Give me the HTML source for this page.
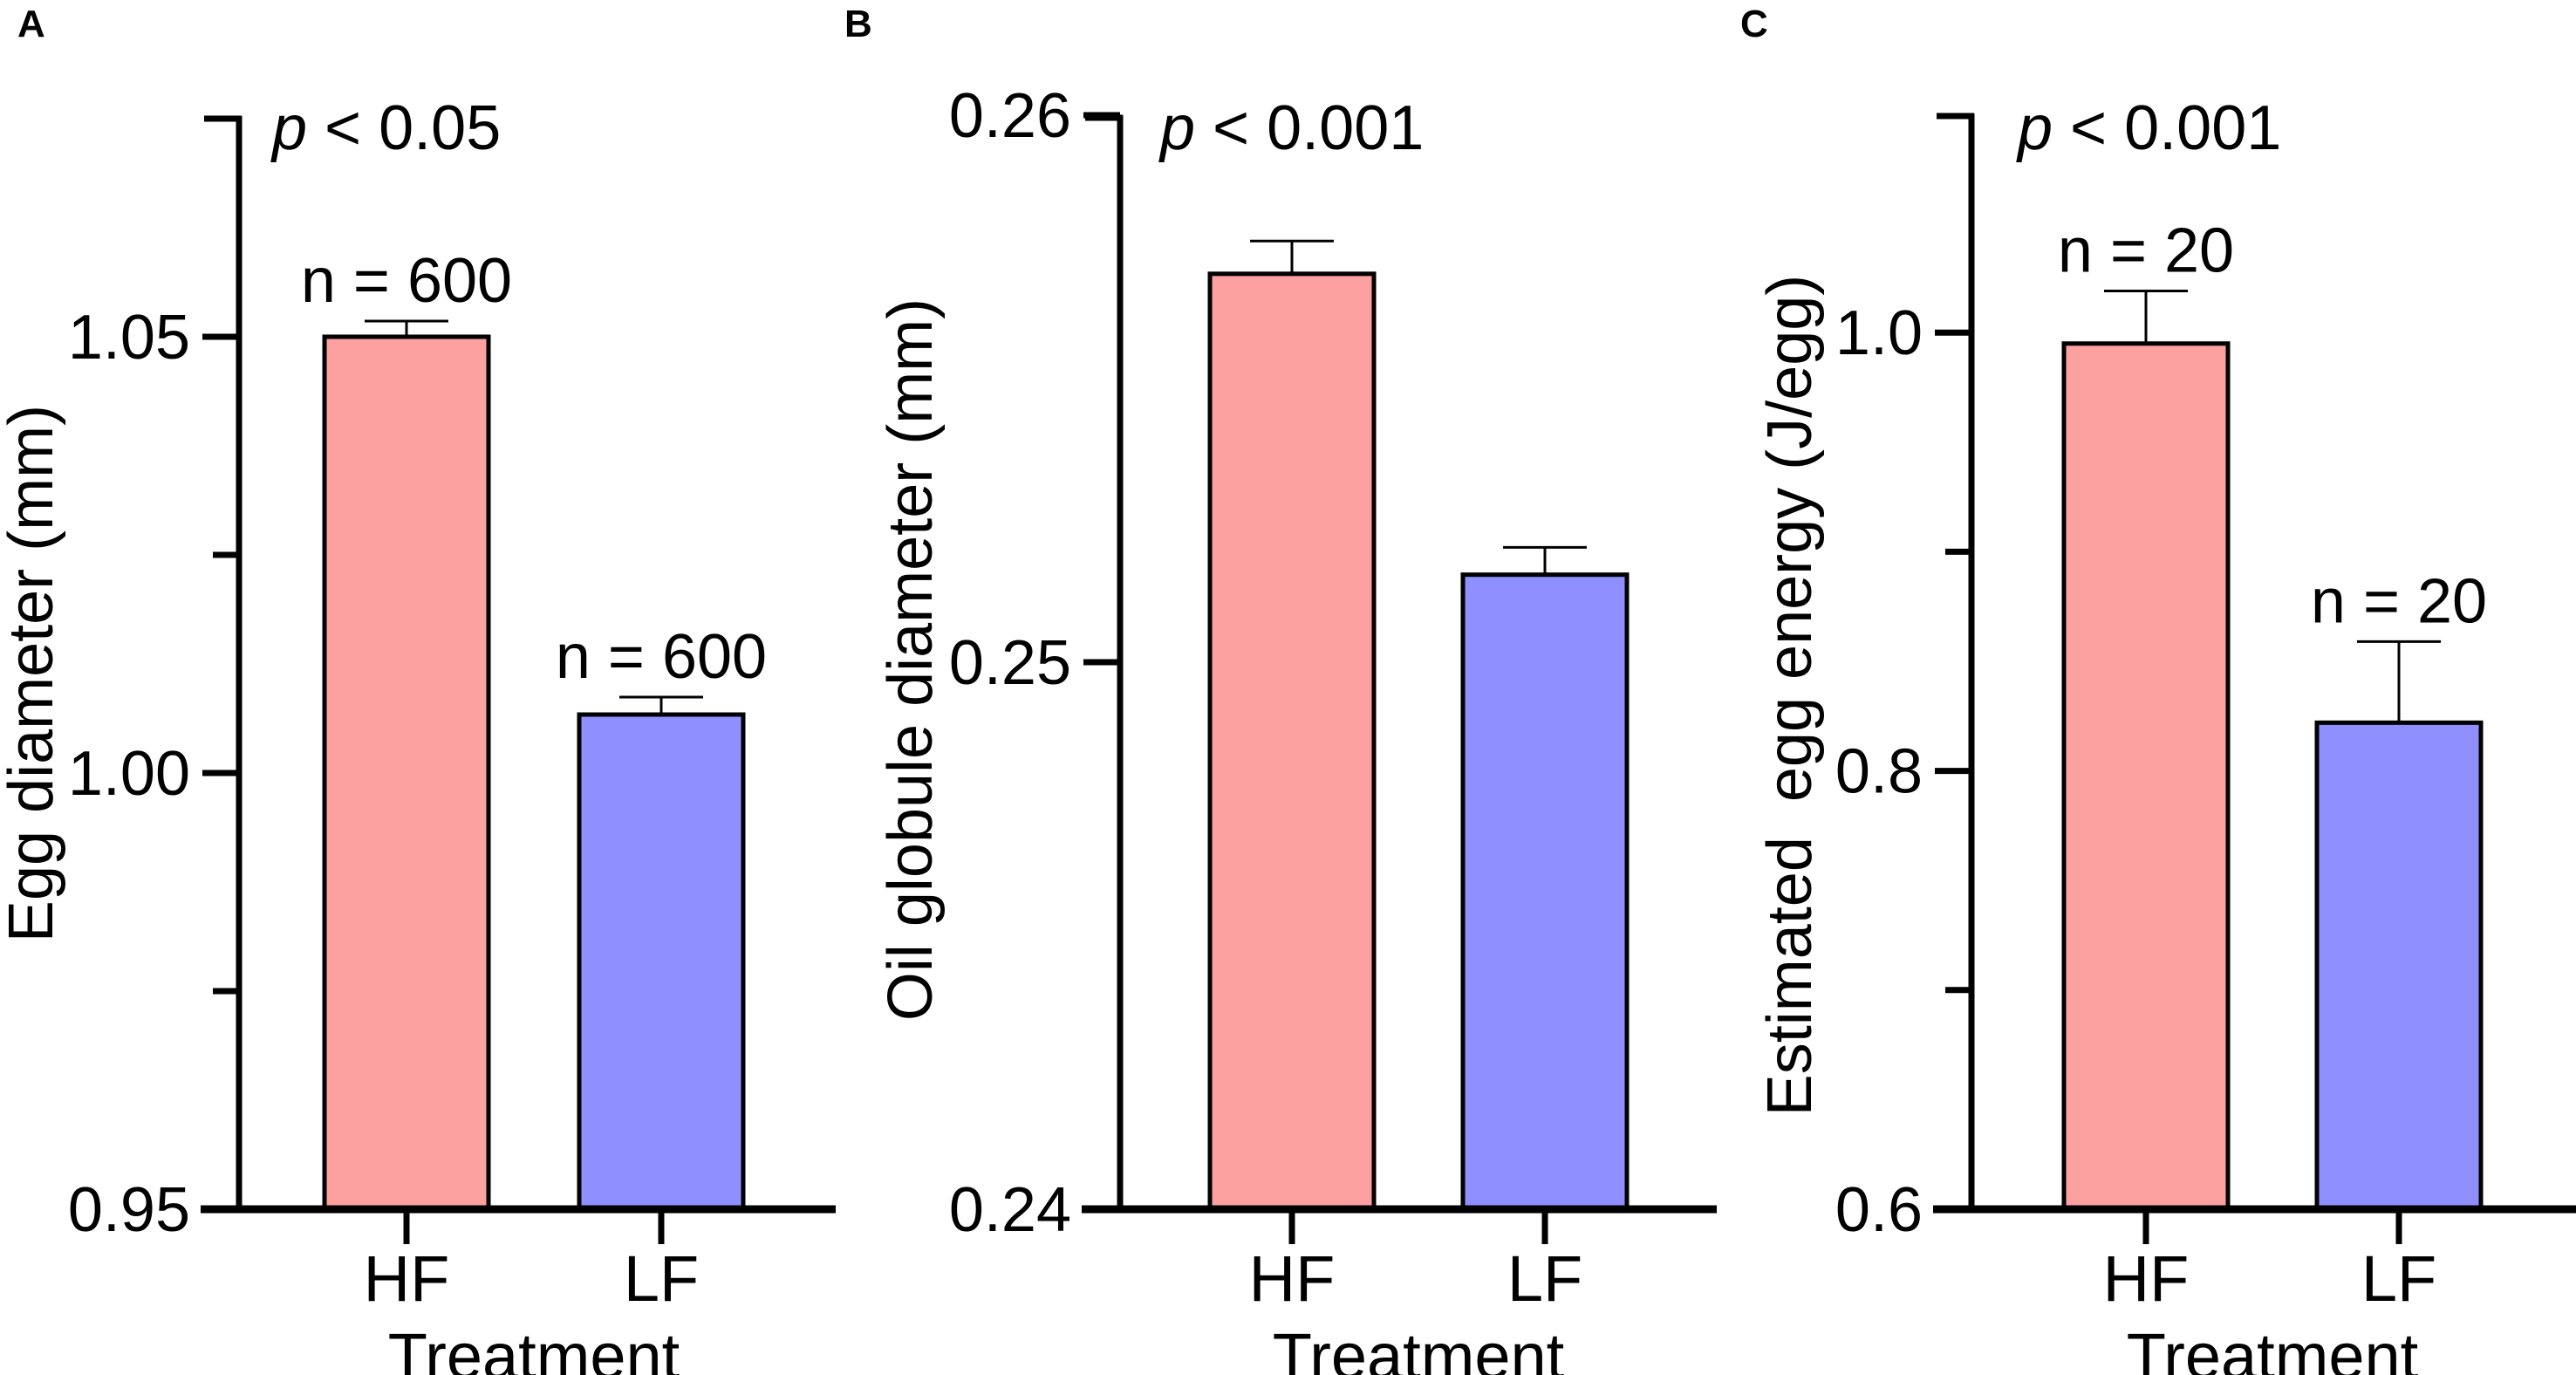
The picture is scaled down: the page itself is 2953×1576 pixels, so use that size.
<!DOCTYPE html>
<html><head><meta charset="utf-8"><style>
html,body{margin:0;padding:0;background:#fff;}
svg{display:block;font-family:"Liberation Sans",Arial,sans-serif;}
</style></head><body>
<svg id="fig" width="2953" height="1576" viewBox="0 0 2953 1576"></svg>
<script>
const categories = ["HF","LF"];
const meansA = [1.0500, 1.0067];
const errsA  = [0.0018, 0.0020];
const nA = ["n = 600","n = 600"];
const ticksA = [0.95, 1.00, 1.05];
const tickLabelsA = ["0.95","1.00","1.05"];
const minorA = [0.975, 1.025];
const meansB = [0.2571, 0.2516];
const errsB  = [0.0006, 0.0005];
const ticksB = [0.24, 0.25, 0.26];
const tickLabelsB = ["0.24","0.25","0.26"];
const meansC = [0.995, 0.822];
const errsC  = [0.024, 0.037];
const nC = ["n = 20","n = 20"];
const ticksC = [0.6, 0.8, 1.0];
const tickLabelsC = ["0.6","0.8","1.0"];
const minorC = [0.7, 0.9];
const colors = ["#fca0a0","#8f8fff"];

const NS = "http://www.w3.org/2000/svg";
const svg = document.getElementById("fig");
function mk(tag, attrs, parent){
  const e = document.createElementNS(NS, tag);
  for (const k in attrs) e.setAttribute(k, attrs[k]);
  (parent||svg).appendChild(e);
  return e;
}
function panel(cfg){
  const g = mk("g", {});
  
  
  const y = v => cfg.y0 - (v - cfg.vmin) / (cfg.vmax - cfg.vmin) * (cfg.y0 - cfg.yTop);
  const L = mk("text", {x:cfg.letterX, y:42, "font-size":44, "font-weight":"bold"}, g);
  L.textContent = cfg.letter;
  
  
  cfg.means.forEach((m,i)=>{
    const cx = cfg.cx[i];
    const top = y(m);
    const eTop = y(m + cfg.errs[i]);
    const eb = mk("line", {x1:cx, x2:cx, y1:top, y2:eTop, stroke:"#000","stroke-width":3}, g);
    
    
    const cap = mk("line", {x1:cx-48, x2:cx+48, y1:eTop, y2:eTop, stroke:"#000","stroke-width":3}, g);
    
    
    const r = mk("rect", {x:cx-94, y:top, width:188, height:cfg.y0-top, fill:colors[i], stroke:"#000","stroke-width":5}, g);
    
    
    if (cfg.nLabels){
      const t = mk("text", {x:cx, y:eTop-22, "font-size":72, "text-anchor":"middle"}, g);
      t.textContent = cfg.nLabels[i];
      
      
    }
    const xt = mk("line", {x1:cx, x2:cx, y1:cfg.y0, y2:cfg.y0+40, stroke:"#000","stroke-width":7}, g);
    
    
    const xl = mk("text", {x:cx, y:cfg.y0+105, "font-size":74, "text-anchor":"middle"}, g);
    xl.textContent = categories[i];
    
    
  });
  const ya = mk("line", {x1:cfg.ax, x2:cfg.ax, y1:cfg.yTop, y2:cfg.y0, stroke:"#000","stroke-width":7}, g);
  
  
  const topcap = mk("line", {x1:cfg.ax-40, x2:cfg.ax+3, y1:cfg.yTop+3, y2:cfg.yTop+3, stroke:"#000","stroke-width":7}, g);
  
  
  cfg.ticks.forEach((v,i)=>{
    const t = mk("line", {x1:cfg.ax-42, x2:cfg.ax, y1:y(v), y2:y(v), stroke:"#000","stroke-width":7}, g);
    
    
    const l = mk("text", {x:cfg.ax-56, y:y(v)+25, "font-size":72, "text-anchor":"end"}, g);
    l.textContent = cfg.tickLabels[i];
    
    
  });
  (cfg.minor||[]).forEach(v=>{
    const t = mk("line", {x1:cfg.ax-30, x2:cfg.ax, y1:y(v), y2:y(v), stroke:"#000","stroke-width":7}, g);
    
    
  });
  const xa = mk("line", {x1:cfg.ax-44, x2:cfg.xEnd, y1:cfg.y0, y2:cfg.y0, stroke:"#000","stroke-width":9}, g);
  
  
  const p = mk("text", {x:cfg.pX, y:171, "font-size":72}, g);
  const pi = mk("tspan", {"font-style":"italic"}, p); pi.textContent = "p";
  const pr = mk("tspan", {}, p); pr.textContent = " < " + cfg.pVal;
  
  
  const xt = mk("text", {x:(cfg.cx[0]+cfg.cx[1])/2, y:1580, "font-size":74, "text-anchor":"middle"}, g);
  xt.textContent = "Treatment";
  
  
  const yt = mk("text", {x:0, y:0, "font-size":72, "text-anchor":"middle", transform:`translate(${cfg.titleX},${cfg.titleY}) rotate(-90)`}, g);
  yt.textContent = cfg.yTitle;
  yt.style.whiteSpace = "pre";
  
  
}
panel({name:"panel-a", letter:"A", letterX:20, ax:274, yTop:133, y0:1386, vmin:0.95, vmax:1.0753,
  means:meansA, errs:errsA, nLabels:nA, ticks:ticksA, tickLabels:tickLabelsA, minor:minorA,
  cx:[466,758], xEnd:958, pX:312, pVal:"0.05", titleX:60, titleY:772, yTitle:"Egg diameter (mm)"});
panel({name:"panel-b", letter:"B", letterX:968, ax:1284, yTop:132, y0:1386, vmin:0.24, vmax:0.26,
  means:meansB, errs:errsB, nLabels:null, ticks:ticksB, tickLabels:tickLabelsB, minor:[],
  cx:[1481,1771], xEnd:1968, pX:1330, pVal:"0.001", titleX:1068, titleY:756, yTitle:"Oil globule diameter (mm)"});
panel({name:"panel-c", letter:"C", letterX:1995, ax:2260, yTop:130, y0:1386, vmin:0.6, vmax:1.1,
  means:meansC, errs:errsC, nLabels:nC, ticks:ticksC, tickLabels:tickLabelsC, minor:minorC,
  cx:[2460,2750], xEnd:2953, pX:2313, pVal:"0.001", titleX:2076, titleY:797, yTitle:"Estimated  egg energy (J/egg)"});
</script>
</body></html>
